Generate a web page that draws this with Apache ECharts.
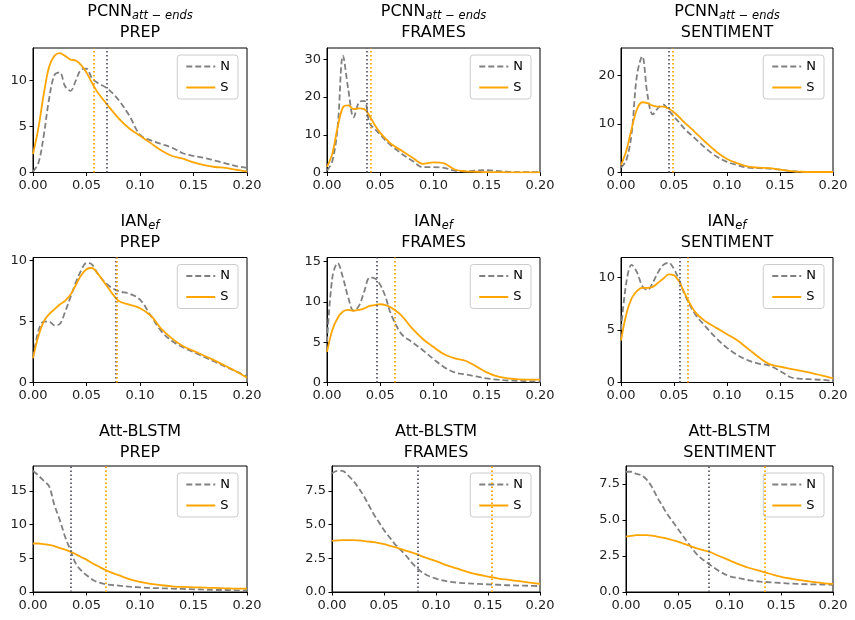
<!DOCTYPE html>
<html>
<head>
<meta charset="utf-8">
<script src="https://cdn.jsdelivr.net/npm/echarts@6/dist/echarts.min.js"></script>
<style>
  html, body { margin: 0; background: #fff; }
  #chart { width: 855px; height: 620px; }
</style>
</head>
<body>
<div id="chart"></div>
<script>
// shared x grid of the density curves
const xs = [0, 0.005, 0.01, 0.015, 0.02, 0.025, 0.03, 0.035, 0.04, 0.045, 0.05, 0.055, 0.06,
  0.07, 0.08, 0.09, 0.10, 0.11, 0.12, 0.13, 0.14, 0.15, 0.16, 0.17, 0.18, 0.19, 0.20];

const models = ['PCNN', 'IAN', 'Att-BLSTM'];
const modelSubs = ['att − ends', 'ef', ''];
const tasks = ['PREP', 'FRAMES', 'SENTIMENT'];

// PCNN att-ends
const pcnnPrepN = [0.1, 1.0, 4.0, 8.0, 10.6, 10.9, 9.4, 8.9, 10.0, 11.2, 11.3, 10.3, 9.8, 9.1, 7.9, 6.2, 4.1, 3.5, 3.1, 2.7, 2.1, 1.8, 1.6, 1.3, 1.0, 0.7, 0.5];
const pcnnPrepS = [2.0, 4.8, 8.5, 11.5, 12.7, 13.0, 12.7, 12.3, 12.2, 11.7, 10.9, 9.8, 8.8, 7.3, 5.9, 4.8, 4.0, 3.2, 2.4, 1.8, 1.5, 1.1, 0.8, 0.6, 0.5, 0.3, 0.1];
const pcnnFramesN = [0.5, 3.0, 12.0, 31.0, 22.0, 14.6, 18.6, 19.0, 13.0, 11.5, 10.0, 8.5, 7.2, 5.0, 3.1, 1.4, 1.4, 1.2, 0.5, 0.3, 0.5, 0.6, 0.4, 0.2, 0.1, 0.1, 0.1];
const pcnnFramesS = [1.5, 5.0, 12.0, 17.3, 17.8, 16.8, 17.0, 16.8, 15.0, 12.5, 10.5, 9.0, 7.6, 5.8, 4.0, 2.3, 2.7, 2.4, 0.8, 0.3, 0.2, 0.1, 0.1, 0.05, 0.05, 0.05, 0.05];
const pcnnSentN = [1.0, 2.5, 8.0, 20.0, 24.0, 16.0, 12.0, 13.3, 14.0, 12.8, 11.5, 10.3, 9.0, 7.0, 5.0, 3.3, 2.2, 1.5, 1.0, 0.9, 0.8, 0.6, 0.3, 0.15, 0.1, 0.1, 0.1];
const pcnnSentS = [1.5, 4.5, 9.0, 13.0, 14.5, 14.3, 13.8, 13.6, 13.6, 13.2, 12.4, 11.4, 10.3, 8.3, 6.2, 4.3, 2.8, 1.9, 1.2, 1.0, 0.9, 0.6, 0.3, 0.15, 0.1, 0.1, 0.1];

// IAN ef
const ianPrepN = [2.0, 4.2, 5.0, 5.0, 4.7, 4.8, 5.8, 7.0, 8.2, 9.2, 9.8, 9.7, 9.0, 8.0, 7.5, 7.3, 6.8, 5.5, 4.2, 3.4, 2.9, 2.5, 2.1, 1.7, 1.3, 0.9, 0.5];
const ianPrepS = [2.0, 3.8, 5.0, 5.6, 6.0, 6.4, 6.7, 7.2, 8.0, 8.8, 9.3, 9.4, 9.0, 7.8, 6.7, 6.4, 6.1, 5.5, 4.4, 3.6, 3.0, 2.6, 2.2, 1.8, 1.35, 0.9, 0.4];
const ianFramesN = [5.0, 13.0, 14.8, 13.0, 10.5, 8.9, 9.5, 11.3, 13.0, 12.9, 12.1, 10.6, 8.5, 6.0, 5.0, 4.0, 2.9, 1.9, 1.25, 1.0, 0.75, 0.5, 0.35, 0.25, 0.2, 0.15, 0.1];
const ianFramesS = [3.8, 6.5, 8.0, 8.8, 9.0, 8.9, 9.0, 9.2, 9.5, 9.6, 9.7, 9.6, 9.3, 8.3, 6.7, 5.4, 4.4, 3.5, 3.0, 2.7, 2.0, 1.25, 0.75, 0.5, 0.4, 0.35, 0.35];
const ianSentN = [5.0, 9.5, 11.2, 10.5, 9.2, 8.8, 9.5, 10.5, 11.2, 11.4, 10.8, 9.7, 8.4, 6.5, 5.3, 4.2, 3.3, 2.6, 2.1, 1.8, 1.6, 1.1, 0.5, 0.35, 0.3, 0.25, 0.15];
const ianSentS = [4.0, 6.5, 8.0, 8.7, 9.0, 9.0, 9.1, 9.5, 9.9, 10.3, 10.2, 9.6, 8.5, 6.7, 5.8, 5.2, 4.6, 4.0, 3.2, 2.4, 1.75, 1.5, 1.3, 1.1, 0.9, 0.65, 0.4];

// Att-BLSTM
const attPrepN = [18.0, 17.3, 16.5, 15.7, 12.9, 10.7, 8.2, 6.2, 4.2, 3.2, 2.5, 1.9, 1.5, 1.1, 0.95, 0.8, 0.7, 0.6, 0.55, 0.5, 0.45, 0.4, 0.35, 0.3, 0.3, 0.25, 0.25];
const attPrepS = [7.2, 7.2, 7.1, 7.0, 6.8, 6.5, 6.3, 6.0, 5.6, 5.2, 4.8, 4.3, 3.9, 3.1, 2.5, 1.9, 1.5, 1.2, 1.0, 0.85, 0.75, 0.7, 0.65, 0.6, 0.55, 0.5, 0.5];
const attFramesN = [8.8, 9.0, 9.0, 8.7, 8.3, 7.8, 7.2, 6.5, 5.8, 5.2, 4.6, 4.1, 3.6, 2.8, 1.9, 1.3, 1.0, 0.8, 0.7, 0.65, 0.6, 0.57, 0.54, 0.5, 0.48, 0.46, 0.44];
const attFramesS = [3.8, 3.83, 3.85, 3.85, 3.85, 3.83, 3.8, 3.75, 3.7, 3.63, 3.55, 3.45, 3.35, 3.1, 2.85, 2.55, 2.3, 2.0, 1.75, 1.5, 1.3, 1.15, 1.0, 0.9, 0.8, 0.7, 0.6];
const attSentN = [8.35, 8.35, 8.2, 8.1, 7.8, 7.3, 6.6, 6.0, 5.4, 4.9, 4.4, 3.9, 3.4, 2.5, 1.95, 1.45, 1.1, 0.95, 0.8, 0.72, 0.67, 0.62, 0.58, 0.55, 0.53, 0.52, 0.5];
const attSentS = [3.85, 3.9, 3.95, 3.95, 3.95, 3.92, 3.85, 3.78, 3.7, 3.6, 3.5, 3.38, 3.25, 3.0, 2.8, 2.5, 2.2, 1.9, 1.65, 1.45, 1.25, 1.05, 0.92, 0.8, 0.7, 0.62, 0.56];

// panels row by row
const curvesN = [pcnnPrepN, pcnnFramesN, pcnnSentN, ianPrepN, ianFramesN, ianSentN, attPrepN, attFramesN, attSentN];
const curvesS = [pcnnPrepS, pcnnFramesS, pcnnSentS, ianPrepS, ianFramesS, ianSentS, attPrepS, attFramesS, attSentS];

// mean lines (dotted)
const meanN = [0.069, 0.037, 0.045, 0.0775, 0.047, 0.0555, 0.035, 0.082, 0.080];
const meanS = [0.057, 0.041, 0.049, 0.078, 0.064, 0.063, 0.068, 0.154, 0.134];

// y axes
const yMax = [13.56, 33.0, 25.7, 10.26, 15.5, 11.9, 18.7, 9.36, 8.75];
const yTicks = [[0, 5, 10], [0, 10, 20, 30], [0, 10, 20], [0, 5, 10], [0, 5, 10, 15], [0, 5, 10],
  [0, 5, 10, 15], [0, 2.5, 5, 7.5], [0, 2.5, 5, 7.5]];
const xTicks = [0, 0.05, 0.1, 0.15, 0.2];

// layout
const FONT = 'DejaVu Sans';
const rowTop = [48, 257.5, 466];
const rowH = [124.5, 125, 126];
const colLeft = [[33, 327, 621], [33, 327, 621], [33, 332, 626]];
const colRight = [247, 540, 833];
const titleTop = [1, 211, 421];

const GRAY = '#808080';
const ORANGE = '#ffa500';

const grid = [], xAxis = [], yAxis = [], series = [], legend = [], graphic = [];

for (let r = 0; r < 3; r++) {
  for (let c = 0; c < 3; c++) {
    const k = r * 3 + c;
    const left = colLeft[r][c];
    grid.push({
      left: left, top: rowTop[r], width: colRight[c] - left, height: rowH[r],
      show: true, borderColor: '#000', borderWidth: 1, backgroundColor: 'transparent'
    });
    xAxis.push({
      type: 'value', gridIndex: k, min: 0, max: 0.2,
      axisLine: { show: true, lineStyle: { color: '#000', width: 1 } },
      axisTick: { show: true, length: 3.5, lineStyle: { color: '#000' }, customValues: xTicks },
      axisLabel: { customValues: xTicks, formatter: v => v.toFixed(2), fontFamily: FONT, fontSize: 13, color: '#222', margin: 7 },
      splitLine: { show: false }
    });
    const dec = k >= 7;
    yAxis.push({
      type: 'value', gridIndex: k, min: 0, max: yMax[k],
      axisLine: { show: true, lineStyle: { color: '#000', width: 1 } },
      axisTick: { show: true, length: 3.5, lineStyle: { color: '#000' }, customValues: yTicks[k] },
      axisLabel: {
        customValues: yTicks[k], formatter: v => dec ? v.toFixed(1) : String(v),
        fontFamily: FONT, fontSize: 13, color: '#222', margin: 6
      },
      splitLine: { show: false }
    });

    series.push({
      name: 'N', type: 'line', xAxisIndex: k, yAxisIndex: k,
      data: xs.map((x, i) => [x, curvesN[k][i]]),
      smooth: 0.35, symbol: 'none', z: 2,
      lineStyle: { color: GRAY, width: 1.8, type: [6, 3] },
      itemStyle: { color: GRAY },
      markLine: {
        silent: true, symbol: ['none', 'none'], label: { show: false }, precision: 5,
        lineStyle: { color: '#5a5a6a', width: 1.8, type: [1.5, 2.5] },
        data: [{ xAxis: meanN[k] }]
      }
    });
    series.push({
      name: 'S', type: 'line', xAxisIndex: k, yAxisIndex: k,
      data: xs.map((x, i) => [x, curvesS[k][i]]),
      smooth: 0.35, symbol: 'none', z: 3,
      lineStyle: { color: ORANGE, width: 1.8 },
      itemStyle: { color: ORANGE },
      markLine: {
        silent: true, symbol: ['none', 'none'], label: { show: false }, precision: 5,
        lineStyle: { color: ORANGE, width: 1.8, type: [1.5, 2.5] },
        data: [{ xAxis: meanS[k] }]
      }
    });

    legend.push({
      data: ['N', 'S'], orient: 'vertical',
      right: 855 - colRight[c] + 9, top: rowTop[r] + 7,
      itemWidth: 29, itemHeight: 14, itemGap: 8,
      padding: [5, 8, 5, 8],
      backgroundColor: 'rgba(255,255,255,0.8)',
      borderColor: '#cccccc', borderWidth: 1, borderRadius: 3,
      itemStyle: { opacity: 0, borderWidth: 0 },
      textStyle: { fontFamily: FONT, fontSize: 13, color: '#000' },
      selectedMode: false
    });

    const sub = modelSubs[r];
    const line1 = sub ? `{m|${models[r]}}{s|${sub}}` : `{m|${models[r]}}`;
    graphic.push({
      type: 'text',
      x: (left + colRight[c]) / 2, y: titleTop[r],
      style: {
        text: line1 + '\n' + `{m|${tasks[c]}}`,
        align: 'center', verticalAlign: 'top',
        rich: {
          m: { fontFamily: FONT, fontSize: 16, lineHeight: 21.5, fill: '#000' },
          s: { fontFamily: FONT, fontSize: 11.5, fontStyle: 'italic', lineHeight: 21.5, fill: '#000', verticalAlign: 'bottom', padding: [8, 0, 0, 0] }
        }
      }
    });
  }
}

const chart = echarts.init(document.getElementById('chart'), null, { renderer: 'canvas' });
chart.setOption({
  animation: false,
  backgroundColor: '#fff',
  grid, xAxis, yAxis, series, legend, graphic
});
</script>
</body>
</html>
